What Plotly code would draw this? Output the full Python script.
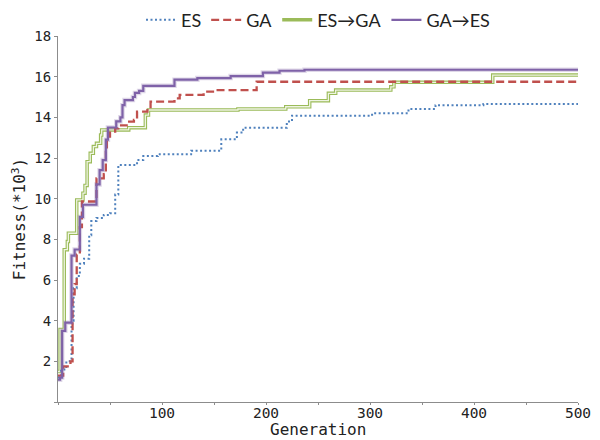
import plotly.graph_objects as go

# ---- data (generation, fitness *10^3) ----
es_gen = [0, 3, 8, 13, 15, 18, 21, 25, 30, 32, 37, 44, 50, 55, 58, 76, 82, 96, 128, 157, 172, 178, 220, 225, 302, 337, 363, 409, 500]
es_val = [1.2, 1.6, 2.0, 4.0, 5.6, 6.2, 6.8, 7.05, 8.2, 8.9, 9.05, 9.2, 9.28, 10.2, 11.66, 11.9, 12.1, 12.18, 12.36, 12.92, 13.25, 13.49, 13.79, 14.08, 14.2, 14.41, 14.6, 14.66, 14.66]

ga_gen = [0, 5, 12, 14, 16, 18, 21, 23, 37, 44, 46, 47, 50, 55, 58, 66, 73, 76, 86, 89, 112, 117, 140, 151, 191, 500]
ga_val = [1.3, 1.75, 2.0, 5.3, 5.8, 7.25, 8.6, 9.86, 11.0, 11.2, 12.3, 13.05, 13.3, 13.46, 13.6, 13.79, 13.87, 14.28, 14.41, 14.77, 14.93, 15.1, 15.26, 15.34, 15.75, 15.78]

esga_gen = [0, 2, 6, 9, 10, 18, 24, 26, 28, 31, 34, 37, 41, 42, 68, 84, 87, 173, 219, 242, 260, 267, 320, 323, 418, 500]
esga_val = [1.5, 3.57, 7.49, 7.89, 8.3, 9.94, 10.27, 10.65, 11.82, 12.23, 12.56, 12.72, 13.13, 13.38, 13.49, 14.11, 14.36, 14.41, 14.52, 14.82, 15.18, 15.34, 15.5, 15.72, 16.08, 16.08]

gaes_gen = [0, 2, 4, 7, 13, 16, 21, 24, 37, 40, 43, 46, 48, 56, 60, 62, 64, 72, 74, 78, 82, 112, 134, 166, 197, 213, 237, 500]
gaes_val = [1.1, 1.2, 3.5, 3.9, 7.2, 7.5, 9.1, 9.7, 10.7, 11.4, 11.9, 12.9, 13.5, 13.8, 14.0, 14.6, 14.85, 15.0, 15.2, 15.3, 15.55, 15.85, 15.93, 16.03, 16.2, 16.29, 16.34, 16.34]

series_names = ["ES", "GA", "ES→GA", "GA→ES"]

x_tickvals = [0, 50, 100, 150, 200, 250, 300, 350, 400, 450, 500]
x_ticktext = ["", "", "100", "", "200", "", "300", "", "400", "", "500"]
y_tickvals = [0, 2, 4, 6, 8, 10, 12, 14, 16, 18]
y_ticktext = ["", "2", "4", "6", "8", "10", "12", "14", "16", "18"]

BLUE = "#4F81BD"
RED = "#C0504D"
GREEN = "#9BBB59"
PURPLE = "#7F62A8"

fig = go.Figure()

# ES->GA double line: wide green + pale centre
fig.add_trace(go.Scatter(x=esga_gen, y=esga_val, mode="lines", name=series_names[2],
                         line=dict(color=GREEN, width=3.5, shape="hv"), legendrank=3))
fig.add_trace(go.Scatter(x=esga_gen, y=esga_val, mode="lines", showlegend=False, hoverinfo="skip",
                         line=dict(color="#EEF4E2", width=1.3, shape="hv")))

fig.add_trace(go.Scatter(x=es_gen, y=es_val, mode="lines", name=series_names[0],
                         line=dict(color=BLUE, width=2, dash="2px,2.5px", shape="hv"), legendrank=1))

fig.add_trace(go.Scatter(x=ga_gen, y=ga_val, mode="lines", name=series_names[1],
                         line=dict(color=RED, width=2.3, dash="8px,4px", shape="hv"), legendrank=2))

# GA->ES: halo + solid purple
fig.add_trace(go.Scatter(x=gaes_gen, y=gaes_val, mode="lines", showlegend=False, hoverinfo="skip",
                         line=dict(color="rgba(128,100,162,0.25)", width=4.5, shape="hv")))
fig.add_trace(go.Scatter(x=gaes_gen, y=gaes_val, mode="lines", name=series_names[3],
                         line=dict(color=PURPLE, width=2.2, shape="hv"), legendrank=4))

mono = "DejaVu Sans Mono"
fig.update_layout(
    width=592, height=432,
    margin=dict(l=49.5, r=22, t=27.7, b=38.1, autoexpand=False),
    paper_bgcolor="white", plot_bgcolor="white",
    font=dict(family=mono, size=16, color="#222"),
    legend=dict(orientation="h", x=0.5, xanchor="center", y=0.972, yanchor="middle",
                yref="container", font=dict(family="Lato", size=18, color="#222"),
                itemwidth=30, tracegroupgap=0, bgcolor="rgba(0,0,0,0)"),
    xaxis=dict(range=[0, 500], tickmode="array", tickvals=x_tickvals, ticktext=x_ticktext,
               showgrid=False, zeroline=False, showline=True, linecolor="#8c8c8c", linewidth=1,
               ticks="outside", ticklen=2, tickcolor="#8c8c8c", automargin=False,
               ticklabelstandoff=-4,
               title=dict(text="", font=dict(family=mono, size=16)),
               tickfont=dict(family=mono, size=14.5)),
    yaxis=dict(range=[0, 18], tickmode="array", tickvals=y_tickvals, ticktext=y_ticktext,
               showgrid=False, zeroline=False, showline=True, linecolor="#8c8c8c", linewidth=1,
               ticks="outside", ticklen=3, tickcolor="#8c8c8c", automargin=False,
               title=dict(text="Fitness(*10<sup>3</sup>)", standoff=4, font=dict(family=mono, size=16)),
               tickfont=dict(family=mono, size=14)),
    annotations=[dict(text="Generation", xref="paper", yref="paper", x=0.5, y=-0.1035,
                      xanchor="center", yanchor="bottom", showarrow=False, borderpad=0,
                      font=dict(family=mono, size=16, color="#222"))],
)

fig.write_html("out.html")
